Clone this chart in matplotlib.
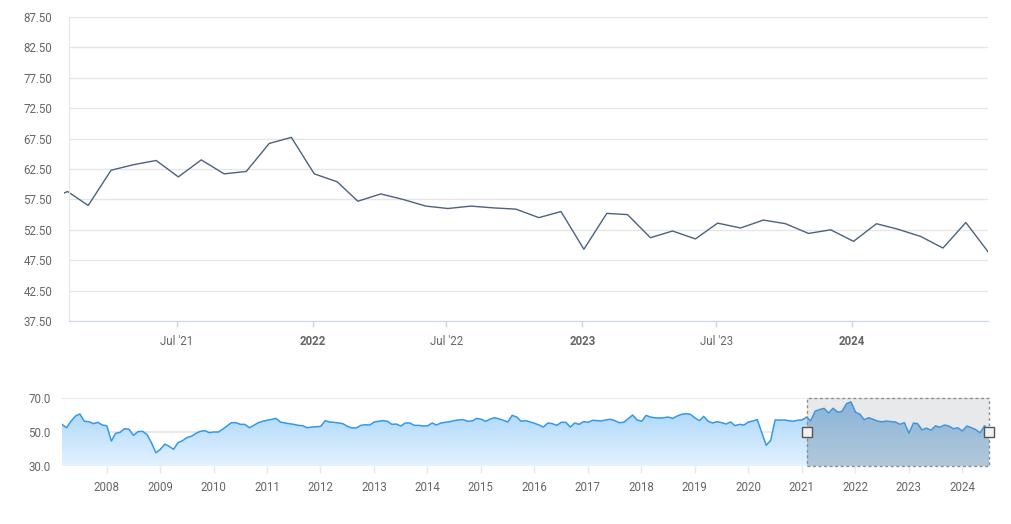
import numpy as np
import pandas as pd
import matplotlib
matplotlib.use('Agg')
import matplotlib.pyplot as plt
import matplotlib.dates as mdates
from matplotlib.colors import LinearSegmentedColormap
from matplotlib.patches import Rectangle, FancyBboxPatch
from matplotlib.transforms import Bbox, TransformedBbox

plt.rcParams['font.family'] = ['Roboto', 'DejaVu Sans']

# monthly index, Jan 2021 - Jul 2024 (main panel)
main_start = '2021-01-01'
main_values = [57.1, 58.8, 56.5, 62.3, 63.2, 63.9, 61.2, 64.0, 61.7, 62.1, 66.7, 67.7,
               61.7, 60.4, 57.2, 58.4, 57.5, 56.4, 56.0, 56.4, 56.1, 55.9, 54.5, 55.5,
               49.3, 55.2, 55.0, 51.2, 52.3, 51.0, 53.6, 52.8, 54.1, 53.5, 51.9, 52.5,
               50.6, 53.5, 52.6, 51.4, 49.5, 53.7, 48.9]

# earlier history shown only in the navigator, Mar 2007 - Dec 2020
hist_start = '2007-03-01'
hist_values = [54.5, 52.5, 56.3, 59.4, 60.6, 56.3, 56.1, 54.9, 55.7, 54.1,
               53.7, 44.7, 49.2, 49.8, 52.0, 51.6, 48.0, 50.2, 50.4, 48.6, 43.7, 37.8,
               39.8, 42.9, 41.6, 39.8, 43.7, 44.9, 46.7, 47.5, 49.2, 50.4, 50.8, 49.6,
               50.0, 50.0, 51.6, 53.5, 55.5, 55.5, 54.5, 54.5, 52.5, 53.9, 55.5, 56.3,
               56.9, 57.5, 58.0, 55.9, 55.3, 54.9, 54.5, 53.9, 53.7, 52.5, 52.9, 53.1,
               53.3, 56.7, 55.9, 55.7, 55.3, 54.9, 53.3, 52.4, 52.4, 53.9, 54.3, 54.1,
               55.9, 56.3, 56.7, 56.3, 54.5, 54.7, 53.5, 55.3, 55.3, 53.9, 53.9, 53.5,
               53.7, 55.3, 54.1, 55.3, 55.7, 56.1, 56.7, 57.1, 57.3, 56.3, 56.5, 58.0,
               57.5, 56.3, 57.5, 58.4, 57.8, 56.9, 55.9, 59.8, 58.8, 56.3, 56.7, 55.9,
               55.1, 54.1, 52.9, 55.3, 54.9, 53.9, 55.7, 55.7, 52.9, 55.3, 54.5, 56.1,
               55.7, 56.9, 56.7, 56.5, 57.1, 57.5, 56.7, 55.5, 55.7, 57.8, 60.0, 57.1,
               56.3, 59.8, 58.8, 58.4, 58.2, 58.4, 58.8, 58.0, 59.4, 60.4, 60.8, 60.4,
               58.2, 56.7, 59.2, 56.3, 55.3, 56.1, 55.5, 54.7, 55.9, 53.7, 54.5, 54.1,
               55.9, 56.5, 57.3, 49.6, 42.2, 45.1, 57.1, 57.0, 57.1, 56.7, 56.3, 56.9]

main_ticks = ['2021-07-01', '2022-01-01', '2022-07-01', '2023-01-01', '2023-07-01', '2024-01-01']
main_ticklabels = ["Jul '21", '2022', "Jul '22", '2023', "Jul '23", '2024']
view_start = '2021-02-05'

# releases come out a couple of days into each month
shift = pd.Timedelta(days=2)
main_dates = pd.date_range(main_start, periods=len(main_values), freq='MS') + shift
hist_dates = pd.date_range(hist_start, periods=len(hist_values), freq='MS') + shift
nav_dates = hist_dates.append(main_dates)
nav_values = np.array(hist_values + main_values)

grey = '#666666'
W, H = 1011, 524
fig = plt.figure(figsize=(W / 100, H / 100), dpi=100)


def px_axes(l, t, r, b):
    return fig.add_axes([l / W, 1 - b / H, (r - l) / W, (b - t) / H])


# ---- main chart ----
ax = px_axes(69, 17, 988, 321)
line, = ax.plot(main_dates, main_values, color='#4b6282', lw=1.0)
line.set_clip_path(None)
line.set_clip_box(TransformedBbox(Bbox([[-5 / 919, 0], [1, 1]]), ax.transAxes))

ax.set_xlim(pd.Timestamp(view_start), main_dates[-1])
ax.set_ylim(37.5, 87.5)
ax.set_yticks(np.arange(37.5, 88, 5))
ax.set_yticklabels([f'{v:.2f}' for v in np.arange(37.5, 88, 5)])
ax.grid(axis='y', color='#e6e6e6', lw=1)
ax.set_axisbelow(True)
ax.set_xticks(pd.to_datetime(main_ticks))
ax.set_xticklabels(main_ticklabels)
for lab in ax.get_xticklabels():
    if "'" not in lab.get_text():
        lab.set_fontweight('bold')
for s in ['top', 'right']:
    ax.spines[s].set_visible(False)
ax.spines['left'].set_color('#e6e6e6')
ax.spines['bottom'].set_color('#ccd6eb')
ax.tick_params(axis='y', length=0, pad=12, labelsize=8.3, labelcolor=grey)
ax.tick_params(axis='x', length=4, width=1, color='#ccd6eb', pad=6, labelsize=8.3, labelcolor=grey)

# ---- navigator ----
nav = px_axes(62, 398, 989, 466)
x0, x1 = mdates.date2num(nav_dates[0]), mdates.date2num(nav_dates[-1])
nav.set_xlim(x0, x1)
nav.set_ylim(30, 70)

area = nav.fill_between(nav_dates, nav_values, 30, color='none', lw=0)
cmap = LinearSegmentedColormap.from_list('nav', ['#e3f2ff', '#a3d2fa'])
grad = np.linspace(0, 1, 256).reshape(-1, 1)
im = nav.imshow(grad, extent=[x0, x1, 30, 70], origin='lower', aspect='auto', cmap=cmap, zorder=1)
im.set_clip_path(area.get_paths()[0], transform=nav.transData)
nav.plot(nav_dates, nav_values, color='#3399ee', lw=1.1, zorder=3)

# selected range
s0 = mdates.date2num(pd.Timestamp(view_start))
mask = Rectangle((s0, 30), x1 - s0, 40, facecolor='#80868c', alpha=0.18, lw=0, zorder=4)
nav.add_patch(mask)
sel = nav_dates >= pd.Timestamp(view_start) - pd.Timedelta(days=40)
dark = nav.fill_between(nav_dates[sel], nav_values[sel], 30, color='#2a6ea8', alpha=0.2, lw=0, zorder=2)
dark.set_clip_path(mask)
nav.add_patch(Rectangle((s0, 30), x1 - s0, 40, facecolor='none', edgecolor='#8c8c8c',
                        lw=1, ls=(0, (2, 2)), zorder=5, clip_on=False))
nav.plot([s0, x1], [50, 50], ls='none', marker='s', ms=7, mfc='#f2f2f2', mec='#555555',
         mew=1, zorder=6, clip_on=False)

nav.set_yticks([30, 50, 70])
nav.set_yticklabels(['30.0', '50.0', '70.0'])
nav.grid(axis='y', color='#e6e6e6', lw=1.2, zorder=0)
nav.set_axisbelow(True)
years = pd.date_range('2008-01-01', '2024-01-01', freq='YS')
nav.set_xticks(mdates.date2num(years))
nav.set_xticklabels([str(y.year) for y in years])
for s in nav.spines.values():
    s.set_visible(False)
nav.tick_params(axis='y', length=0, pad=8, labelsize=8.3, labelcolor=grey)
nav.tick_params(axis='x', length=5, width=1, color='#e6e6e6', pad=6, labelsize=8.3, labelcolor=grey)

fig.savefig('out.png', dpi=100)
